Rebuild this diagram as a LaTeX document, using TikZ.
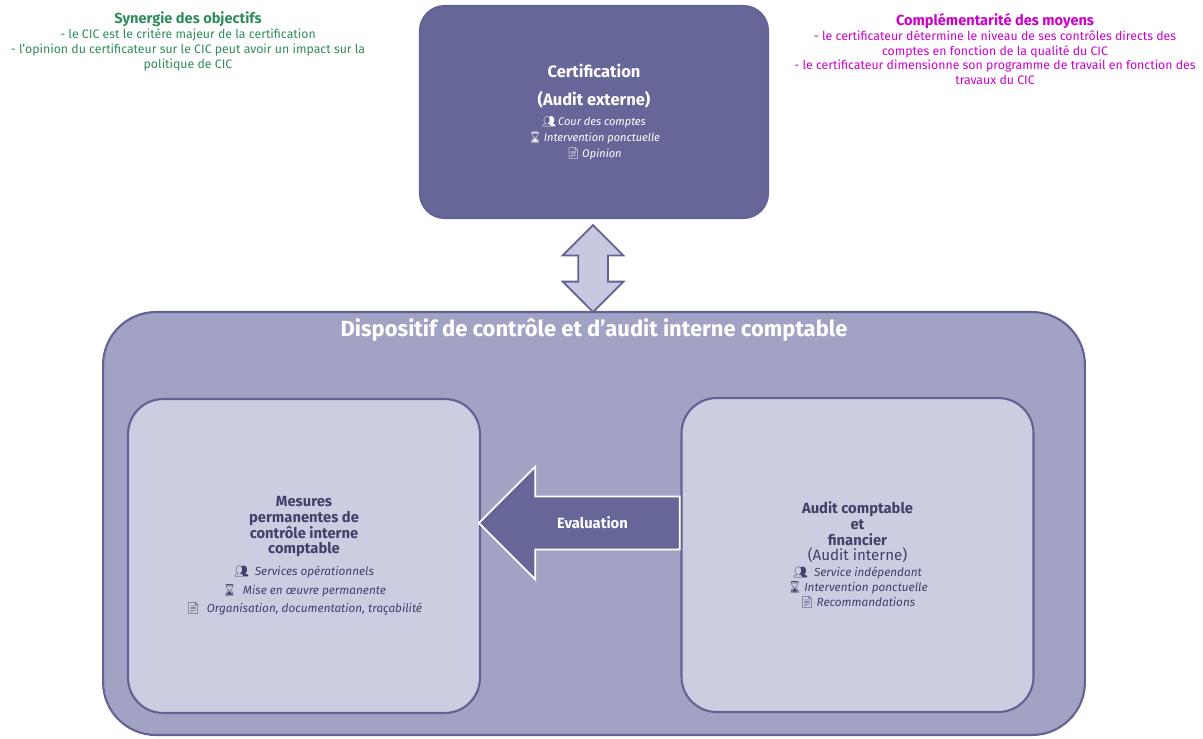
\documentclass[tikz,border=0pt]{standalone}
\usepackage{fontspec}
\setmainfont{Fira Sans}
\newfontfamily\iconfont{Noto Emoji}
\providecommand{\PX}{0.02}
\providecommand{\FTtop}{\fontsize{8.3}{8.5}\normalfont\bfseries\selectfont}
\providecommand{\FTnote}{\fontsize{7}{8.5}\selectfont}
\providecommand{\FTcert}{\fontsize{9.4}{9.5}\normalfont\bfseries\selectfont}
\providecommand{\FTdisp}{\fontsize{12.5}{13}\bfseries\selectfont}
\providecommand{\FThead}{\fontsize{8.4}{9}\normalfont\bfseries\selectfont}
\providecommand{\FTitem}{\fontsize{6.7}{9}\itshape\selectfont}
\providecommand{\FTitemS}{\fontsize{6.3}{8.8}\itshape\selectfont}
\providecommand{\FTsub}{\fontsize{8.6}{9}\normalfont\selectfont}
\providecommand{\Iwho}{{\iconfont 👥}}
\providecommand{\Itime}{{\iconfont ⌛}}
\providecommand{\Idoc}{{\iconfont 📄}}
\usetikzlibrary{shapes.arrows}
\definecolor{boxdark}{RGB}{102,102,152}
\definecolor{boxmid}{RGB}{162,162,196}
\definecolor{boxlight}{RGB}{205,205,225}
\definecolor{boxline}{RGB}{98,98,148}
\definecolor{boxtext}{RGB}{64,64,106}
\definecolor{linkfill}{RGB}{200,200,225}
\definecolor{notegreen}{RGB}{48,140,90}
\definecolor{notepink}{RGB}{204,0,204}
\tikzset{
  panel/.style={rectangle, draw=boxline, line width=1.2pt,
                align=center, inner sep=2pt, font=\FTitem},
  certbox/.style={panel, fill=boxdark, text=white, rounded corners=14pt,
                  minimum width=6.96cm, minimum height=4.24cm, font=\FTitemS},
  dispbox/.style={panel, fill=boxmid, rounded corners=30pt,
                  minimum width=19.64cm, minimum height=8.46cm},
  partbox/.style={panel, fill=boxlight, text=boxtext, rounded corners=20pt,
                  minimum width=7.04cm, minimum height=6.28cm},
  note/.style={align=center, inner sep=0pt, font=\FTnote},
  linkarrow/.style={double arrow, draw=boxline, fill=linkfill, line width=1pt,
                    rotate=90, minimum height=1.74cm, minimum width=1.18cm,
                    inner sep=0.28cm, double arrow head extend=0.31cm},
  evalarrow/.style={single arrow, draw=white, fill=boxdark, line width=1pt,
                    text=white, font=\FThead, shape border rotate=180,
                    minimum height=4.02cm, minimum width=2.26cm,
                    inner ysep=11pt, single arrow head extend=0.6cm}
}
\begin{document}
\begin{tikzpicture}[x={\PX cm}, y={-\PX cm}]
\useasboundingbox (0,0) rectangle (1203,738);

% Notes above
\node (synergie) [note, text=notegreen] at (188,41)
  {{\FTtop Synergie des objectifs}\\
   - le CIC est le critère majeur de la certification\\
   - l'opinion du certificateur sur le CIC peut avoir un impact sur la\\
   politique de CIC};

\node (moyens) [note, text=notepink] at (995,49)
  {{\FTtop Complémentarité des moyens}\\
   - le certificateur détermine le niveau de ses contrôles directs des\\
   comptes en fonction de la qualité du CIC\\
   - le certificateur dimensionne son programme de travail en fonction des\\
   travaux du CIC};

% Boxes
\node (cert) [certbox] at (594,112)
  {{\FTcert Certification}\\[7pt]
   {\FTcert (Audit externe)}\\[2.5pt]
   \Iwho\,Cour des comptes\\[0.5pt]
   \Itime\,Intervention ponctuelle\\
   \Idoc\,Opinion};

\node (disp) [dispbox] at (594,523.5) {};
\node (disptitle) [note, text=white, font=\FTdisp] at (594,330)
  {Dispositif de contrôle et d'audit interne comptable};

\node (mesures) [partbox] at (304,556)
  {{\FThead Mesures}\\
   {\FThead permanentes de}\\
   {\FThead contrôle interne}\\
   {\FThead comptable}\\[3.5pt]
   \Iwho\enspace Services opérationnels\\[1.5pt]
   \Itime\enspace Mise en œuvre permanente\\[1.5pt]
   \Idoc\enspace Organisation, documentation, traçabilité};

\node (audit) [partbox] at (857.5,555)
  {{\FThead Audit comptable}\\
   {\FThead et}\\
   {\FThead financier}\\[-0.5pt]
   {\FTsub (Audit interne)}\\
   \Iwho\enspace Service indépendant\\[-0.5pt]
   \Itime\,Intervention ponctuelle\\[-0.5pt]
   \Idoc\,Recommandations};

% Certification <-> Dispositif
\node (link) [linkarrow] at (593,268.5) {};

% Audit -> Mesures
\node (eval) [evalarrow] at (592.5,523) {Evaluation};

\end{tikzpicture}
\end{document}
